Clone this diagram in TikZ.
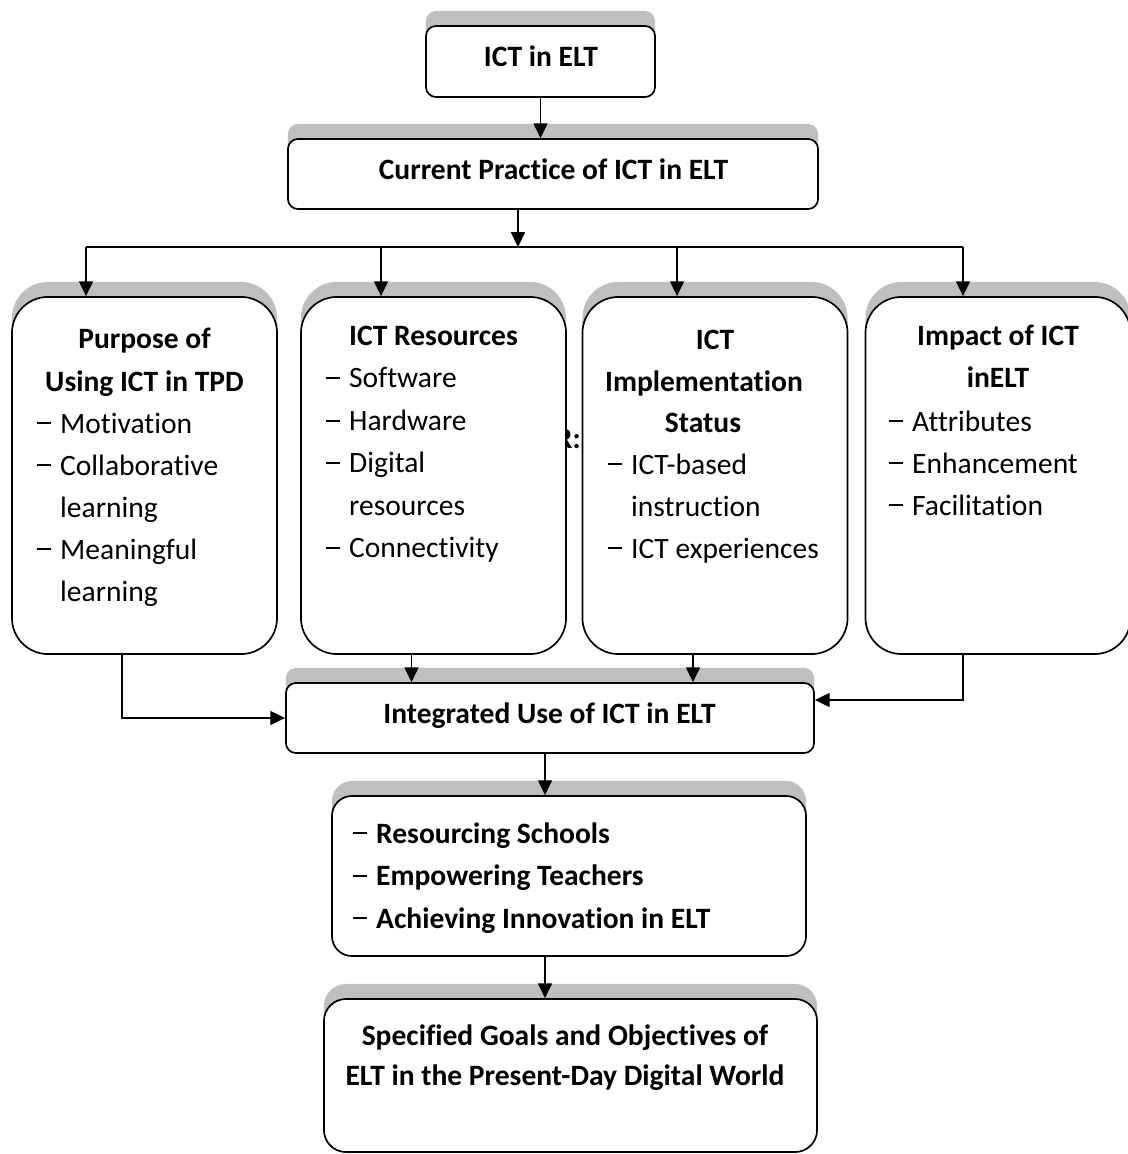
\documentclass[tikz,border=0pt]{standalone}
\usepackage{fontspec}
\setmainfont{Carlito}[Ligatures={TeX,NoCommon}]
\usepackage{tikz}
\usetikzlibrary{arrows.meta}
\usetikzlibrary{calc}
\usetikzlibrary{shadows}
\tikzset{>={Triangle[length=0.37cm,width=0.35cm]}}
\definecolor{shadowgray}{RGB}{191,191,191}
\newcommand{\itm}{\makebox[0.58cm][l]{\rule[0.3em]{0.47em}{0.065em}}}
\newcommand{\cnt}{\hspace*{0.58cm}}

\begin{document}
\begin{tikzpicture}[
        x=0.025cm, y=-0.025cm,
        box/.style={draw,line width=1.2pt,fill=white,rounded corners=0.25cm,
            general shadow={fill=shadowgray,shadow yshift=0.375cm}},
        tallbox/.style={box,rounded corners=0.9cm,minimum width=6.625cm,minimum height=8.925cm},
        head/.style={anchor=base,font=\fontsize{21}{30}\selectfont\bfseries},
        entry/.style={anchor=base west,font=\fontsize{21}{30}\selectfont},
        link/.style={->,line width=1pt}
    ]
    \useasboundingbox (0,0) rectangle (1127,1154);

    \node[box,minimum width=5.725cm,minimum height=1.775cm] (ictelt) at (540.5,61.5) {};
    \node[box,minimum width=13.25cm,minimum height=1.75cm] (practice) at (553,174) {};

    \node[anchor=base east,inner sep=0pt,font=\fontsize{21}{30}\selectfont\bfseries] (stray) at (581,448) {R:};
    \node[tallbox] (purpose) at (144.5,475.5) {};
    \node[tallbox] (resources) at (433.5,475.5) {};
    \node[tallbox] (status) at (715,475.5) {};
    \node[tallbox] (impact) at (998,475.5) {};

    \node[box,minimum width=13.2cm,minimum height=1.75cm] (integrated) at (550,718) {};
    \node[box,rounded corners=0.5cm,minimum width=11.85cm,minimum height=4cm] (pillars) at (569,876) {};
    \node[box,rounded corners=0.55cm,minimum width=12.325cm,minimum height=3.825cm] (goals) at (570.5,1075.5) {};

    % texts
    \node[head] (ictelt-t) at (541,67) {ICT in ELT};
    \node[head] (practice-t) at (553.5,180) {Current Practice of ICT in ELT};

    \foreach \t [count=\i from 0] in {Purpose of,Using ICT in TPD}
        \node[head] (purpose-h\i) at (144.5,349+42*\i) {\t};
    \foreach \t [count=\i from 0] in {\itm Motivation,\itm Collaborative,\cnt learning,\itm Meaningful,\cnt learning}
        \node[entry] (purpose-e\i) at (32,433+42*\i) {\t};

    \node[head] (resources-h0) at (433.5,346) {ICT Resources};
    \foreach \t [count=\i from 0] in {\itm Software,\itm Hardware,\itm Digital,\cnt resources,\itm Connectivity}
        \node[entry] (resources-e\i) at (321,388+42.4*\i) {\t};

    \foreach \t/\x [count=\i from 0] in {ICT/715,Implementation/704,Status/703}
        \node[head] (status-h\i) at (\x,350+41*\i) {\t};
    \foreach \t [count=\i from 0] in {\itm ICT-based,\cnt instruction,\itm ICT experiences}
        \node[entry] (status-e\i) at (603,474+42*\i) {\t};

    \foreach \t [count=\i from 0] in {Impact of ICT,inELT}
        \node[head] (impact-h\i) at (998,346+42*\i) {\t};
    \foreach \t [count=\i from 0] in {\itm Attributes,\itm Enhancement,\itm Facilitation}
        \node[entry] (impact-e\i) at (884,431+42*\i) {\t};

    \node[head] (integrated-t) at (549.5,723) {Integrated Use of ICT in ELT};

    \foreach \t [count=\i from 0] in {Resourcing Schools,Empowering Teachers,Achieving Innovation in ELT}
        \node[entry] (pillars-e\i) at (348,843+42.5*\i) {\itm\textbf{\t}};

    \foreach \t [count=\i from 0] in {Specified Goals and Objectives of,ELT in the Present-Day Digital World}
        \node[head] (goals-h\i) at (565,1045+40*\i) {\t};

    % connectors
    \draw[link] (ictelt.south) -- (ictelt.south |- practice.north);
    \foreach \n/\x in {purpose/86,resources/381,status/677,impact/963}{
        \coordinate (drop-\n) at (\x,247);
        \draw[link] (drop-\n) -- (drop-\n |- \n.north);
    }
    \draw[line width=1pt] (drop-purpose) -- (drop-impact);
    \draw[link] ([xshift=-0.875cm]practice.south) -- ([xshift=-0.875cm]practice.south |- drop-purpose);

    \draw[link] ([xshift=-0.5625cm]purpose.south) |- (integrated.west);
    \draw[link] ([xshift=-0.55cm]resources.south) -- ([xshift=-0.55cm]resources.south |- integrated.north);
    \draw[link] ([xshift=-0.55cm]status.south) -- ([xshift=-0.55cm]status.south |- integrated.north);
    \draw[link] ([xshift=-0.875cm]impact.south) |- ([yshift=0.45cm]integrated.east);
    \draw[link] ([xshift=-0.125cm]integrated.south) -- ([xshift=-0.125cm]integrated.south |- pillars.north);
    \draw[link] ([xshift=-0.6cm]pillars.south) -- ([xshift=-0.6cm]pillars.south |- goals.north);
\end{tikzpicture}
\end{document}
